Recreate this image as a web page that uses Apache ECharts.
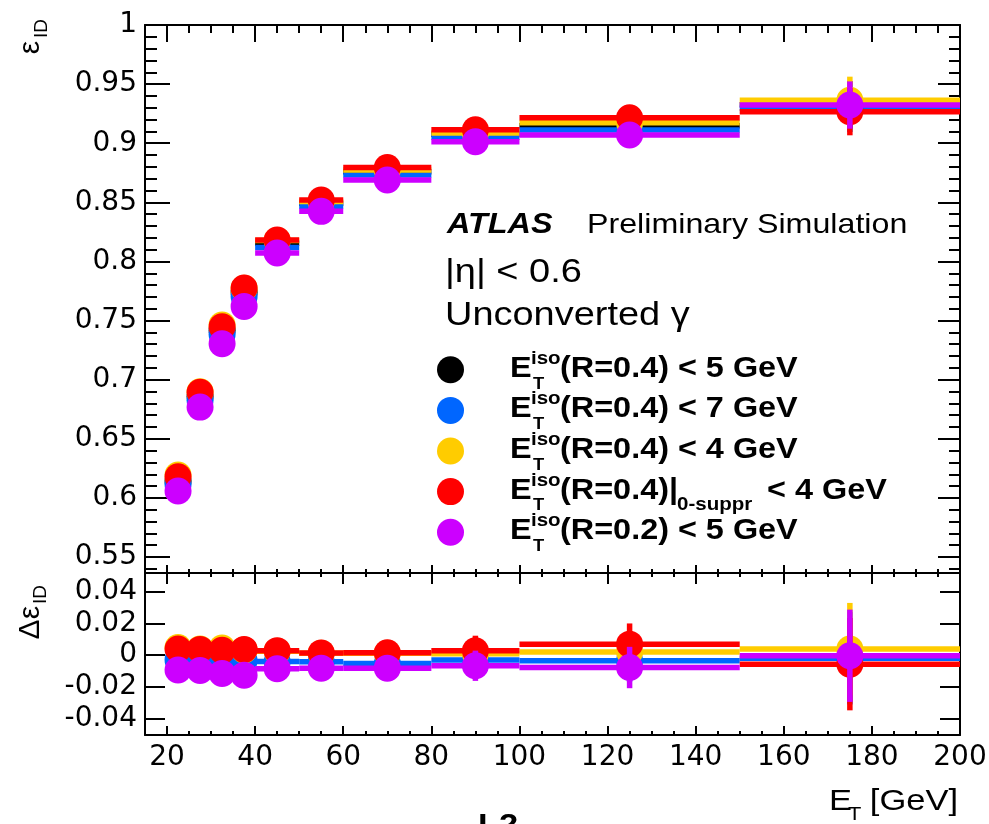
<!DOCTYPE html>
<html><head><meta charset="utf-8">
<script src="https://cdn.jsdelivr.net/npm/echarts@6/dist/echarts.min.js"></script>
<style>html,body{margin:0;padding:0;background:#fff}#c{width:989px;height:824px}</style>
</head><body><div id="c"></div>
<script>
// ---- bins (E_T in GeV) ----
const binLow    = [20, 25, 30, 35, 40, 50, 60, 80, 100, 150];
const binHigh   = [25, 30, 35, 40, 50, 60, 80, 100, 150, 200];
const binCenter = [22.5, 27.5, 32.5, 37.5, 45, 55, 70, 90, 125, 175];

// ---- series names ----
const seriesNames = [
  'E_T^iso(R=0.4) < 5 GeV',
  'E_T^iso(R=0.4) < 7 GeV',
  'E_T^iso(R=0.4) < 4 GeV',
  'E_T^iso(R=0.4)|_0-suppr < 4 GeV',
  'E_T^iso(R=0.2) < 5 GeV'
];

// ---- efficiency (top panel) ----
const effBlack  = [0.6143, 0.6857, 0.7418, 0.7739, 0.8153, 0.8492, 0.8759, 0.9077, 0.9147, 0.9325];
const effBlue   = [0.6113, 0.6827, 0.7383, 0.7704, 0.8119, 0.8466, 0.8731, 0.9050, 0.9112, 0.9295];
const effYellow = [0.6193, 0.6897, 0.7463, 0.7774, 0.8178, 0.8507, 0.8774, 0.9087, 0.9174, 0.9363];
const effRed    = [0.6179, 0.6893, 0.7448, 0.7775, 0.8181, 0.8520, 0.8794, 0.9114, 0.9216, 0.9267];
const effPurple = [0.6058, 0.6768, 0.7304, 0.7620, 0.8072, 0.8424, 0.8689, 0.9013, 0.9069, 0.9323];
const effErr    = [0.002, 0.002, 0.002, 0.002, 0.002, 0.002, 0.003, 0.005, 0.007, 0.020];

// ---- difference to reference (bottom panel) ----
const dBlue   = [-0.0030, -0.0030, -0.0035, -0.0035, -0.0040, -0.0042, -0.0052, -0.0031, -0.0036, -0.0020];
const dYellow = [ 0.0048,  0.0038,  0.0045,  0.0032,  0.0025,  0.0012,  0.0012,  0.0008,  0.0020,  0.0038];
const dRed    = [ 0.0038,  0.0036,  0.0030,  0.0036,  0.0028,  0.0014,  0.0015,  0.0027,  0.0069, -0.0057];
const dPurple = [-0.0094, -0.0097, -0.0115, -0.0126, -0.0086, -0.0082, -0.0082, -0.0067, -0.0078, -0.0004];
const dErr    = [0.002, 0.002, 0.002, 0.002, 0.002, 0.002, 0.003, 0.0095, 0.013, 0.029];

// ---- ticks / labels ----
const xMajor = [20, 40, 60, 80, 100, 120, 140, 160, 180, 200];
const xMinor = [15, 20, 25, 30, 35, 40, 45, 50, 55, 60, 65, 70, 75, 80, 85, 90, 95, 100, 105, 110, 115, 120, 125, 130, 135, 140, 145, 150, 155, 160, 165, 170, 175, 180, 185, 190, 195, 200];
const yTopMajor  = [0.55, 0.6, 0.65, 0.7, 0.75, 0.8, 0.85, 0.9, 0.95, 1];
const yTopLabels = ['0.55', '0.6', '0.65', '0.7', '0.75', '0.8', '0.85', '0.9', '0.95', '1'];
const yTopMinor  = [0.54, 0.55, 0.56, 0.57, 0.58, 0.59, 0.60, 0.61, 0.62, 0.63, 0.64, 0.65, 0.66, 0.67, 0.68, 0.69, 0.70, 0.71, 0.72, 0.73, 0.74, 0.75, 0.76, 0.77, 0.78, 0.79, 0.80, 0.81, 0.82, 0.83, 0.84, 0.85, 0.86, 0.87, 0.88, 0.89, 0.90, 0.91, 0.92, 0.93, 0.94, 0.95, 0.96, 0.97, 0.98, 0.99, 1.00];
const yBotMajor  = [-0.04, -0.02, 0, 0.02, 0.04];
const yBotLabels = ['-0.04', '-0.02', '0', '0.02', '0.04'];

const legendMain = ['(R=0.4) < 5 GeV', '(R=0.4) < 7 GeV', '(R=0.4) < 4 GeV', '(R=0.4)|', '(R=0.2) < 5 GeV'];

const COLORS = ['#000000', '#0066ff', '#ffcc00', '#ff0000', '#cc00ff'];

const LBL_FONT = 'DejaVu Sans';
const TXT_FONT = 'Liberation Sans';

function labelFor(vals, labels) {
  return function (v) {
    for (let i = 0; i < vals.length; i++) if (Math.abs(vals[i] - v) < 1e-9) return labels[i];
    return '';
  };
}

function xAx(grid, pos, ticks, len, line, withLabels) {
  return {
    type: 'value', gridIndex: grid, position: pos, min: 15, max: 200,
    axisLine: { show: line, onZero: false, lineStyle: { color: '#000', width: 2 } },
    axisTick: { show: true, inside: true, length: len, customValues: ticks, lineStyle: { color: '#000', width: 2 } },
    axisLabel: withLabels ? { show: true, customValues: xMajor, color: '#000', fontFamily: LBL_FONT, fontSize: 28, margin: 9 } : { show: false },
    splitLine: { show: false }
  };
}
function yAx(grid, pos, min, max, ticks, len, line, labels) {
  return {
    type: 'value', gridIndex: grid, position: pos, min: min, max: max,
    axisLine: { show: line, onZero: false, lineStyle: { color: '#000', width: 2 } },
    axisTick: { show: true, inside: true, length: len, customValues: ticks, lineStyle: { color: '#000', width: 2 } },
    axisLabel: labels ? { show: true, customValues: labels[0], formatter: labelFor(labels[0], labels[1]), color: '#000', fontFamily: LBL_FONT, fontSize: 28, margin: 8 } : { show: false },
    splitLine: { show: false }
  };
}

const TOP_MIN = 0.5365, TOP_MAX = 1.0;
const BOT_MIN = -0.0502, BOT_MAX = 0.0516;

const xAxis = [
  xAx(0, 'bottom', xMajor, 8, true, false),
  xAx(0, 'bottom', xMinor, 4, false, false),
  xAx(0, 'top', xMajor, 17, true, false),
  xAx(0, 'top', xMinor, 8, false, false),
  xAx(1, 'bottom', xMajor, 9, true, true),
  xAx(1, 'bottom', xMinor, 4, false, false),
  xAx(1, 'top', xMajor, 11, true, false),
  xAx(1, 'top', xMinor, 4, false, false)
];
const yAxis = [
  yAx(0, 'left', TOP_MIN, TOP_MAX, yTopMajor, 25, true, [yTopMajor, yTopLabels]),
  yAx(0, 'left', TOP_MIN, TOP_MAX, yTopMinor, 12, false, null),
  yAx(0, 'right', TOP_MIN, TOP_MAX, yTopMajor, 22, true, null),
  yAx(0, 'right', TOP_MIN, TOP_MAX, yTopMinor, 11, false, null),
  yAx(1, 'left', BOT_MIN, BOT_MAX, yBotMajor, 20, true, [yBotMajor, yBotLabels]),
  yAx(1, 'right', BOT_MIN, BOT_MAX, yBotMajor, 20, true, null)
];

function makeRender(color) {
  return function (params, api) {
    const xc = api.value(0), y = api.value(1), xl = api.value(2), xh = api.value(3), e = api.value(4);
    const c = api.coord([xc, y]);
    const l = api.coord([xl, y]);
    const h = api.coord([xh, y]);
    const t = api.coord([xc, y + e]);
    const b = api.coord([xc, y - e]);
    const w = 5.5;
    return {
      type: 'group', children: [
        { type: 'rect', shape: { x: l[0], y: c[1] - w / 2, width: h[0] - l[0], height: w }, style: { fill: color } },
        { type: 'rect', shape: { x: c[0] - w / 2, y: t[1], width: w, height: b[1] - t[1] }, style: { fill: color } },
        { type: 'circle', shape: { cx: c[0], cy: c[1], r: 13.5 }, style: { fill: color } }
      ]
    };
  };
}
function mkSeries(name, vals, errs, color, xi, yi) {
  return {
    type: 'custom', name: name, xAxisIndex: xi, yAxisIndex: yi,
    renderItem: makeRender(color),
    encode: { x: 0, y: 1 },
    data: binCenter.map((x, i) => [x, vals[i], binLow[i], binHigh[i], errs[i]]),
    animation: false
  };
}

const series = [
  mkSeries(seriesNames[0], effBlack, effErr, COLORS[0], 0, 0),
  mkSeries(seriesNames[1], effBlue, effErr, COLORS[1], 0, 0),
  mkSeries(seriesNames[2], effYellow, effErr, COLORS[2], 0, 0),
  mkSeries(seriesNames[3], effRed, effErr, COLORS[3], 0, 0),
  mkSeries(seriesNames[4], effPurple, effErr, COLORS[4], 0, 0),
  mkSeries(seriesNames[1] + ' (diff)', dBlue, dErr, COLORS[1], 4, 4),
  mkSeries(seriesNames[2] + ' (diff)', dYellow, dErr, COLORS[2], 4, 4),
  mkSeries(seriesNames[3] + ' (diff)', dRed, dErr, COLORS[3], 4, 4),
  mkSeries(seriesNames[4] + ' (diff)', dPurple, dErr, COLORS[4], 4, 4)
];

// ---- annotations / legend ----
const SX = 1.15, SXB = 1.08;
function txt(text, x, y, font, opts) {
  opts = opts || {};
  return {
    type: 'text', x: x, y: y, scaleX: opts.sx || SX, rotation: opts.rot || 0,
    style: { text: text, font: font, fill: '#000', align: opts.align || 'left', verticalAlign: 'middle' },
    z: 100
  };
}
const graphics = [];
graphics.push(txt('ATLAS', 447, 225, 'italic bold 30px "' + TXT_FONT + '"', { sx: SXB }));
graphics.push(txt('Preliminary Simulation', 587, 225, '28px "' + TXT_FONT + '"'));
graphics.push(txt('|\u03b7| < 0.6', 445, 273, '33px "' + TXT_FONT + '"'));
graphics.push(txt('Unconverted \u03b3', 445, 316, '33px "' + TXT_FONT + '"'));

for (let i = 0; i < 5; i++) {
  const ry = 368.5 + i * 40.6;
  graphics.push({ type: 'circle', shape: { cx: 450.5, cy: ry + 1.3, r: 13.5 }, style: { fill: COLORS[i] }, z: 100 });
  graphics.push(txt('E', 510, ry, 'bold 30px "' + TXT_FONT + '"', { sx: SXB }));
  graphics.push(txt('T', 533, ry + 15.5, 'bold 17px "' + TXT_FONT + '"', { sx: SXB }));
  graphics.push(txt('iso', 531, ry - 10, 'bold 19px "' + TXT_FONT + '"', { sx: SXB }));
  graphics.push(txt(legendMain[i], 560, ry, 'bold 30px "' + TXT_FONT + '"', { sx: SXB }));
  if (i === 3) {
    graphics.push(txt('0-suppr', 677, ry + 14.5, 'bold 19px "' + TXT_FONT + '"', { sx: SXB }));
    graphics.push(txt('< 4 GeV', 767, ry, 'bold 30px "' + TXT_FONT + '"', { sx: SXB }));
  }
}

// axis titles
const R90 = Math.PI / 2;
graphics.push(txt('ID', 42, 19, '19px "' + TXT_FONT + '"', { rot: R90, align: 'right', sx: 1.0 }));
graphics.push(txt('\u03b5', 31, 41, '30px "' + TXT_FONT + '"', { rot: R90, align: 'right', sx: 1.0 }));
graphics.push(txt('ID', 41, 585, '19px "' + TXT_FONT + '"', { rot: R90, align: 'right', sx: 1.0 }));
graphics.push(txt('\u0394\u03b5', 31, 606, '30px "' + TXT_FONT + '"', { rot: R90, align: 'right', sx: 1.0 }));

graphics.push(txt('E', 829, 802, '30px "' + TXT_FONT + '"'));
graphics.push(txt('T', 848, 815, '19px "' + TXT_FONT + '"'));
graphics.push(txt('[GeV]', 958, 802, '30px "' + TXT_FONT + '"', { align: 'right' }));
graphics.push(txt('L2', 478, 826, 'bold 30px "' + TXT_FONT + '"'));

const chart = echarts.init(document.getElementById('c'), null, { renderer: 'canvas', width: 989, height: 824 });
chart.setOption({
  animation: false,
  backgroundColor: '#ffffff',
  grid: [
    { left: 145, top: 25, width: 815, height: 548, containLabel: false, outerBoundsMode: 'none' },
    { left: 145, top: 573, width: 815, height: 162, containLabel: false, outerBoundsMode: 'none' }
  ],
  xAxis: xAxis,
  yAxis: yAxis,
  series: series,
  graphic: graphics
});
</script>
</body></html>
